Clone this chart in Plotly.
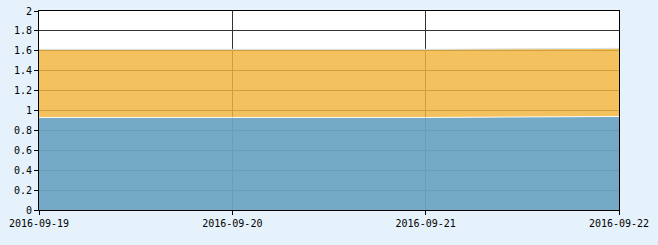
import plotly.graph_objects as go

dates = ["2016-09-19", "2016-09-20", "2016-09-21", "2016-09-22"]
blue_vals = [0.93, 0.93, 0.93, 0.94]
orange_vals = [0.685, 0.685, 0.685, 0.685]
y_ticks = [0, 0.2, 0.4, 0.6, 0.8, 1, 1.2, 1.4, 1.6, 1.8, 2]
y_tick_labels = ["0", "0.2", "0.4", "0.6", "0.8", "1", "1.2", "1.4", "1.6", "1.8", "2"]

fig = go.Figure()
fig.add_trace(go.Scatter(
    x=dates, y=blue_vals, mode="lines", stackgroup="s",
    line=dict(color="rgba(255,255,255,0.9)", width=1),
    fillcolor="rgba(108,165,195,0.94)", showlegend=False, hoverinfo="skip"))
fig.add_trace(go.Scatter(
    x=dates, y=orange_vals, mode="lines", stackgroup="s",
    line=dict(color="rgba(210,230,245,0.9)", width=1),
    fillcolor="rgba(242,180,63,0.83)", showlegend=False, hoverinfo="skip"))

font = dict(family="DejaVu Sans Mono", size=10, color="#000")
fig.update_layout(
    width=658, height=245,
    margin=dict(l=39, r=39, t=11, b=35),
    paper_bgcolor="#E6F2FB", plot_bgcolor="#FFFFFF",
    font=font,
    xaxis=dict(type="date", range=[dates[0], dates[-1]],
               tickvals=dates, ticktext=dates, automargin=False,
               showgrid=True, gridcolor="#333333", gridwidth=1,
               showline=True, linecolor="#000", linewidth=1, mirror=True,
               ticks="outside", ticklen=4, tickcolor="#000",
               tickfont=font, zeroline=False),
    yaxis=dict(range=[0, 2], tickvals=y_ticks, ticktext=y_tick_labels,
               automargin=False,
               showgrid=True, gridcolor="#333333", gridwidth=1,
               showline=True, linecolor="#000", linewidth=1, mirror=True,
               ticks="outside", ticklen=4, tickcolor="#000",
               tickfont=font, zeroline=False),
)
fig.write_html("out.html")
